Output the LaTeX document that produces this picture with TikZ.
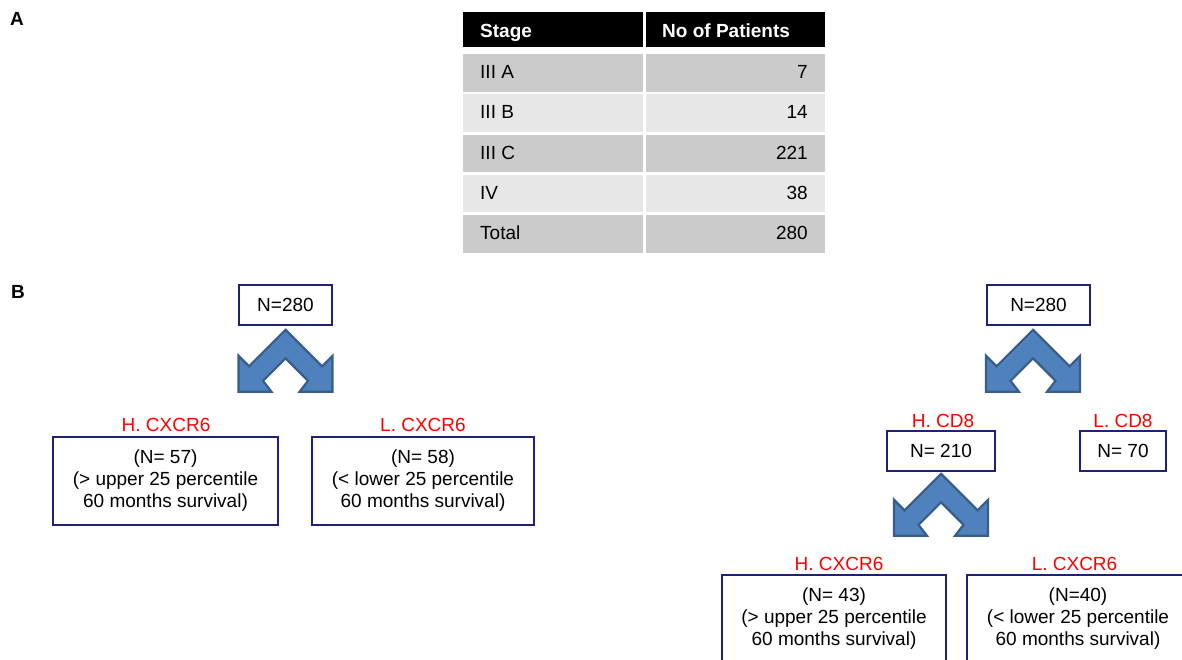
\documentclass[tikz,border=0pt]{standalone}
\usepackage{fontspec}
\setmainfont{Liberation Sans}
\usetikzlibrary{positioning}
\definecolor{boxnavy}{RGB}{32,32,120}
\definecolor{arrowblue}{RGB}{79,129,189}
\definecolor{arrowedge}{RGB}{56,93,138}
\definecolor{rowdark}{RGB}{203,203,203}
\definecolor{rowlight}{RGB}{231,231,231}
\definecolor{groupred}{RGB}{255,0,0}

\tikzset{
  numbox/.style={draw=boxnavy, line width=1.6, minimum height=40, inner sep=0},
  infobox/.style={draw=boxnavy, line width=1.6, minimum width=224, minimum height=88,
    align=center, inner sep=0},
  grouplabel/.style={text=groupred, inner sep=0},
  headcell/.style={text=white, font=\fontsize{19}{22}\selectfont\bfseries, anchor=base west, inner sep=0},
  panellabel/.style={font=\fontsize{19}{22}\selectfont\bfseries, anchor=base west, inner sep=0},
  splitarrow/.pic={
    \filldraw[fill=arrowblue, draw=arrowedge, line width=2.2, line join=miter]
      (0,1) -- (36.5,37.5) -- (47,27) -- (47,63) -- (14,63) -- (22.5,52)
      -- (0,29.5) -- (-22.5,52) -- (-14,63) -- (-47,63) -- (-47,27)
      -- (-36.5,37.5) -- cycle;
  }
}

\begin{document}
\begin{tikzpicture}[x=1pt, y=-1pt, font=\fontsize{19}{22}\selectfont]
    \useasboundingbox (0,0) rectangle (1182,659);
    \clip (0,0) rectangle (1182,659);

    % Panel letters
    \node[panellabel] (panelA) at (10,25) {A};
    \node[panellabel] (panelB) at (11,298) {B};

    % Stage table
    \fill[black] (463,12) rectangle (643,47);
    \fill[black] (646,12) rectangle (825,47);
    \node[headcell] (headStage) at (480,37.5) {Stage};
    \node[headcell] (headCount) at (662,37.5) {No of Patients};
    \foreach \stage/\cnt/\shade [count=\r] in
        {III A/7/rowdark, III B/14/rowlight, III C/221/rowdark, IV/38/rowlight, Total/280/rowdark} {
      \pgfmathsetmacro\rtop{14+40.2*\r}
      \fill[\shade] (463,\rtop) rectangle (643,{\rtop+37.5});
      \fill[\shade] (646,\rtop) rectangle (825,{\rtop+37.5});
      \node[anchor=base west, inner sep=0] (stage\r) at (480,{\rtop+24.5}) {\stage};
      \node[anchor=base east, inner sep=0] (count\r) at (808,{\rtop+24.5}) {\cnt};
    }

    % Left tree: split by CXCR6
    \node[numbox, minimum width=93] (rootL) at (285.5,305) {N=280};
    \pic at ([yshift=-3]rootL.south) {splitarrow};
    \node[infobox, minimum width=225] (highL) at (165.5,481)
      {(N= 57)\\(> upper 25 percentile\\60 months survival)};
    \node[infobox, minimum width=222] (lowL) at (423,481)
      {(N= 58)\\(< lower 25 percentile\\60 months survival)};
    \node[grouplabel] (highLlbl) at (166,425) {H. CXCR6};
    \node[grouplabel] (lowLlbl) at (423,425) {L. CXCR6};

    % Right tree: split by CD8, then CXCR6
    \node[numbox, minimum width=103] (rootR) at (1038.5,305) {N=280};
    \pic at ([xshift=-5.5, yshift=-3]rootR.south) {splitarrow};
    \node[numbox, minimum width=108] (highCD) at (941,451) {N= 210};
    \node[numbox, minimum width=86] (lowCD) at (1123,451) {N= 70};
    \node[grouplabel] (highCDlbl) at (943,421) {H. CD8};
    \node[grouplabel] (lowCDlbl) at (1123,421) {L. CD8};
    \pic at ([yshift=-1]highCD.south) {splitarrow};
    \node[infobox] (highR) at (834,619)
      {(N= 43)\\(> upper 25 percentile\\60 months survival)};
    \node[infobox, minimum width=222] (lowR) at (1078,619)
      {(N=40)\\(< lower 25 percentile\\60 months survival)};
    \node[grouplabel] (highRlbl) at (839,564) {H. CXCR6};
    \node[grouplabel] (lowRlbl) at (1074.5,564) {L. CXCR6};
\end{tikzpicture}
\end{document}
